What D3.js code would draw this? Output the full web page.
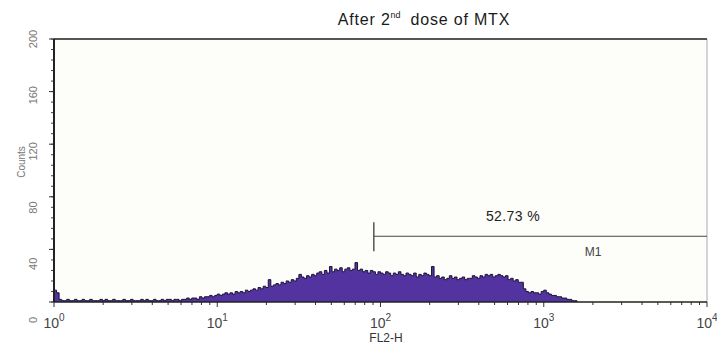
<!DOCTYPE html>
<html>
<head>
<meta charset="utf-8">
<script src="https://cdn.jsdelivr.net/npm/d3@7"></script>
<style>
  body { margin: 0; background: #fff; }
  svg text { font-family: Arial, "Liberation Sans", sans-serif; }
</style>
</head>
<body>
<svg id="chart" width="717" height="349"></svg>
<script>
// histogram channels: 64 per decade, starting at 10^0
const binsPerDecade = 64;
const channelCounts = [
  9, 7, 2, 1, 1, 2, 1, 1, 2, 1,
  1, 2, 1, 1, 2, 1, 1, 1, 2, 1,
  2, 1, 1, 2, 1, 1, 1, 2, 1, 1,
  2, 1, 1, 1, 2, 1, 2, 1, 1, 2,
  1, 1, 2, 1, 2, 2, 1, 2, 2, 1,
  2, 2, 3, 2, 3, 3, 2, 4, 3, 4,
  4, 5, 4, 5, 6, 5, 6, 7, 6, 7,
  6, 8, 7, 8, 7, 9, 8, 9, 10, 9,
  11, 10, 12, 11, 17, 12, 13, 14, 13, 15,
  14, 16, 15, 17, 16, 18, 21, 19, 18, 20,
  19, 21, 20, 22, 23, 21, 24, 22, 27, 23,
  25, 24, 26, 23, 25, 26, 24, 25, 30, 24,
  25, 23, 24, 22, 24, 23, 21, 23, 22, 21,
  23, 22, 20, 22, 21, 23, 21, 20, 22, 21,
  20, 22, 19, 21, 20, 22, 21, 20, 27, 19,
  20, 18, 19, 17, 18, 20, 18, 19, 17, 18,
  19, 17, 18, 18, 20, 19, 18, 20, 19, 21,
  20, 21, 19, 20, 21, 20, 19, 20, 17, 18,
  16, 17, 15, 15, 10, 8, 7, 8, 7, 7,
  6, 8, 9, 7, 6, 5, 5, 4, 4, 3,
  3, 2, 2, 1, 1
];
const xDecades = [0, 1, 2, 3, 4];
const yTicks = [0, 40, 80, 120, 160, 200];
const gateName = "M1";
const gateRange = [91, 10000];
const gateLevel = 50;
const gatePercent = "52.73 %";
const title = ["After 2", "nd", "dose of MTX"];
const xTitle = "FL2-H";
const yTitle = "Counts";

const svg = d3.select("#chart");
const plot = {left: 54, right: 707, top: 39, bottom: 302};

const x = d3.scaleLog().domain([1, 10000]).range([plot.left, plot.right]);
const y = d3.scaleLinear().domain([0, 200]).range([plot.bottom, plot.top]);

// plot background + frame
svg.append("rect")
  .attr("x", plot.left).attr("y", plot.top)
  .attr("width", plot.right - plot.left).attr("height", plot.bottom - plot.top)
  .attr("fill", "#fdfdf9");
svg.append("line")
  .attr("x1", plot.right).attr("x2", plot.right).attr("y1", plot.top).attr("y2", plot.bottom)
  .attr("stroke", "#aaa").attr("stroke-width", 1);
svg.append("line")
  .attr("x1", plot.left).attr("x2", plot.right).attr("y1", plot.top).attr("y2", plot.top)
  .attr("stroke", "#555").attr("stroke-width", 2);

// histogram
const pts = channelCounts.map((c, i) => ({lo: Math.pow(10, i / binsPerDecade), c: c}));
pts.push({lo: Math.pow(10, channelCounts.length / binsPerDecade), c: 0});

const area = d3.area()
  .curve(d3.curveStepAfter)
  .x(d => x(d.lo))
  .y0(y(0))
  .y1(d => y(d.c));
const line = d3.line()
  .curve(d3.curveStepAfter)
  .x(d => x(d.lo))
  .y(d => y(d.c));

svg.append("path")
  .datum(pts)
  .attr("d", area)
  .attr("fill", "#5233a0");
svg.append("path")
  .datum(pts)
  .attr("d", line)
  .attr("fill", "none")
  .attr("stroke", "#1c1236")
  .attr("stroke-width", 1);

// x axis
const minor = [];
xDecades.slice(0, -1).forEach(d => {
  for (let k = 2; k <= 9; k++) minor.push(k * Math.pow(10, d));
});
svg.append("g").selectAll("line")
  .data(minor).enter().append("line")
  .attr("x1", d => x(d)).attr("x2", d => x(d))
  .attr("y1", plot.bottom).attr("y2", plot.bottom + 3)
  .attr("stroke", "#333");
svg.append("g").selectAll("line")
  .data(xDecades).enter().append("line")
  .attr("x1", d => x(Math.pow(10, d))).attr("x2", d => x(Math.pow(10, d)))
  .attr("y1", plot.bottom).attr("y2", plot.bottom + 5)
  .attr("stroke", "#333");
svg.append("line")
  .attr("x1", plot.left).attr("x2", plot.right).attr("y1", plot.bottom).attr("y2", plot.bottom)
  .attr("stroke", "#222").attr("stroke-width", 1.5);

const xl = svg.append("g").selectAll("text")
  .data(xDecades).enter().append("text")
  .attr("x", d => x(Math.pow(10, d)))
  .attr("y", 328)
  .attr("text-anchor", "middle")
  .attr("font-size", 14)
  .attr("fill", "#444");
xl.append("tspan").text("10");
xl.append("tspan")
  .attr("dy", -7)
  .attr("font-size", 10)
  .text(d => d);

svg.append("text")
  .attr("x", 386).attr("y", 342)
  .attr("text-anchor", "middle")
  .attr("font-size", 12)
  .attr("fill", "#333")
  .text(xTitle);

// y axis
const yMinor = d3.range(0, 201, 8);
svg.append("g").selectAll("line")
  .data(yMinor).enter().append("line")
  .attr("x1", plot.left - 3).attr("x2", plot.left)
  .attr("y1", d => y(d)).attr("y2", d => y(d))
  .attr("stroke", "#444");
svg.append("g").selectAll("line")
  .data(yTicks).enter().append("line")
  .attr("x1", plot.left - 5).attr("x2", plot.left)
  .attr("y1", d => y(d)).attr("y2", d => y(d))
  .attr("stroke", "#333");
svg.append("line")
  .attr("x1", plot.left).attr("x2", plot.left).attr("y1", plot.top).attr("y2", plot.bottom)
  .attr("stroke", "#222").attr("stroke-width", 2);

svg.append("g").selectAll("text")
  .data(yTicks).enter().append("text")
  .attr("transform", d => "translate(37," + (y(d) + 18 - d * 0.09) + ") rotate(-90)")
  .attr("text-anchor", "middle")
  .attr("font-size", 11)
  .attr("fill", "#777")
  .text(d => d);

svg.append("text")
  .attr("transform", "translate(25,162) rotate(-90)")
  .attr("text-anchor", "middle")
  .attr("font-size", 10)
  .attr("fill", "#777")
  .text(yTitle);

// title
const t = svg.append("text")
  .attr("x", 424).attr("y", 25)
  .attr("text-anchor", "middle")
  .attr("font-family", "'DejaVu Sans', sans-serif")
  .attr("font-size", 16)
  .attr("letter-spacing", 0.8)
  .attr("fill", "#1a1a1a");
t.append("tspan").text(title[0]);
t.append("tspan").attr("dy", -7).attr("font-size", 9).attr("letter-spacing", 0).text(title[1]);
t.append("tspan").attr("dy", 7).attr("dx", 10).text(title[2]);

// marker gate M1
const gy = y(gateLevel);
svg.append("line")
  .attr("x1", x(gateRange[0])).attr("x2", x(gateRange[1]))
  .attr("y1", gy).attr("y2", gy)
  .attr("stroke", "#444").attr("stroke-width", 1.2);
svg.append("line")
  .attr("x1", x(gateRange[0])).attr("x2", x(gateRange[0]))
  .attr("y1", gy - 14).attr("y2", gy + 15)
  .attr("stroke", "#555").attr("stroke-width", 1.5);
svg.append("text")
  .attr("x", 513).attr("y", gy - 15)
  .attr("text-anchor", "middle")
  .attr("font-family", "'DejaVu Sans', sans-serif")
  .attr("font-size", 14)
  .attr("letter-spacing", 0.4)
  .attr("fill", "#222")
  .text(gatePercent);
svg.append("text")
  .attr("x", 593).attr("y", gy + 20)
  .attr("text-anchor", "middle")
  .attr("font-size", 12)
  .attr("fill", "#444")
  .text(gateName);
</script>
</body>
</html>
